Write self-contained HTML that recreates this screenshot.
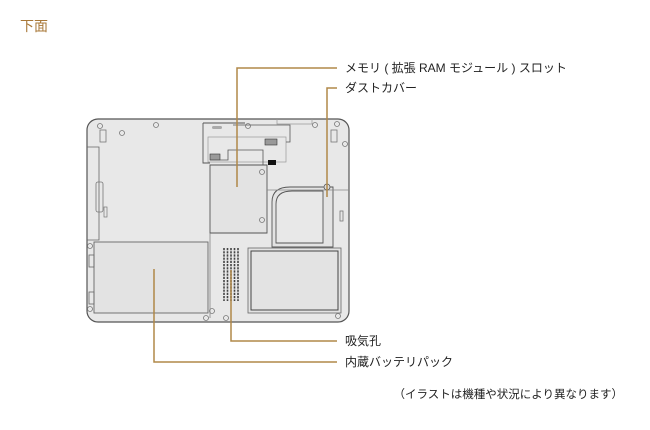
<!DOCTYPE html>
<html><head><meta charset="utf-8"><style>
html,body{margin:0;padding:0;background:#fff;}
svg{display:block;}
text{font-family:"Liberation Sans","Noto Sans CJK JP",sans-serif;}
</style></head><body>
<svg width="650" height="430" viewBox="0 0 650 430" xmlns="http://www.w3.org/2000/svg">
<text x="20" y="31" font-size="14" fill="#a87838">下面</text>
<!-- body -->
<rect x="87" y="119" width="262" height="203" rx="11" fill="#e8e8e8" stroke="#555" stroke-width="1.2"/>
<!-- left side panel -->
<path d="M87 147 H99 V240 H87" fill="none" stroke="#666" stroke-width="0.8"/>
<rect x="96" y="182" width="7" height="30" rx="2" fill="none" stroke="#777" stroke-width="0.8"/>
<rect x="104" y="207" width="3" height="10" fill="none" stroke="#777" stroke-width="0.7"/>
<!-- battery -->
<rect x="94" y="242" width="114" height="71" fill="#e3e3e3" stroke="#666" stroke-width="0.9"/>
<rect x="89" y="255" width="5" height="12" fill="none" stroke="#666" stroke-width="0.8"/>
<rect x="89" y="292" width="5" height="12" fill="none" stroke="#666" stroke-width="0.8"/>
<!-- memory bracket -->
<path d="M203 123 H245 M203 123 V163 H210" fill="none" stroke="#555" stroke-width="0.9"/>
<rect x="208" y="137" width="78" height="25" fill="none" stroke="#999" stroke-width="0.7"/>
<path d="M233 125 H290 V142 H286" fill="none" stroke="#555" stroke-width="0.8"/>
<path d="M277 119 V124 H312 V119" fill="none" stroke="#999" stroke-width="0.7"/>
<rect x="212" y="126" width="10" height="3" rx="1.5" fill="#aaa"/>
<rect x="265" y="139" width="12" height="6" fill="#999" stroke="#333" stroke-width="0.6"/>
<rect x="210" y="154" width="10" height="6" fill="#999" stroke="#333" stroke-width="0.6"/>
<rect x="268" y="160" width="8" height="5" fill="#111"/>
<!-- memory cover -->
<path d="M210 233 V165 H267 V233 Z" fill="#e3e3e3" stroke="#555" stroke-width="0.9"/>
<path d="M210 160 H228 V150 H263 V165" fill="none" stroke="#555" stroke-width="0.8"/>
<path d="M210 233 V318" fill="none" stroke="#777" stroke-width="0.7"/>
<!-- fan duct -->
<path d="M272 247 V202 Q272 187 290 187 H333 V247 Z" fill="#e3e3e3" stroke="#555" stroke-width="0.9"/>
<path d="M276 243 V204 Q276 191 292 191 H323 V243 Z" fill="#e8e8e8" stroke="#555" stroke-width="0.9"/>
<path d="M267 190 H349" fill="none" stroke="#888" stroke-width="0.7"/>
<circle cx="327" cy="187" r="3" fill="#ddd" stroke="#555" stroke-width="0.8"/>
<!-- right panel -->
<rect x="248" y="248" width="93" height="65" fill="#e3e3e3" stroke="#666" stroke-width="0.8"/>
<rect x="251" y="251" width="87" height="59" fill="#e3e3e3" stroke="#444" stroke-width="1"/>
<!-- vents -->
<g stroke="#444" stroke-width="1.6" stroke-dasharray="2.2 1">
<line x1="224" y1="248" x2="224" y2="301"/><line x1="227.5" y1="248" x2="227.5" y2="301"/>
<line x1="231" y1="248" x2="231" y2="301"/><line x1="234.5" y1="248" x2="234.5" y2="301"/>
<line x1="238" y1="248" x2="238" y2="301"/>
</g>
<!-- misc holes -->
<g fill="none" stroke="#777" stroke-width="0.8">
<circle cx="100" cy="126" r="2.5"/><circle cx="122" cy="133" r="2.5"/><circle cx="156" cy="125" r="2.5"/>
<circle cx="315" cy="125" r="2.5"/><circle cx="337" cy="124" r="2.5"/><circle cx="345" cy="144" r="2.5"/>
<circle cx="248" cy="126" r="2.5"/><circle cx="212" cy="311" r="2.5"/><circle cx="206" cy="318" r="2.5"/>
<circle cx="226" cy="318" r="2.5"/><circle cx="338" cy="316" r="2.5"/><circle cx="90" cy="246" r="2.5"/>
<circle cx="90" cy="309" r="2.5"/><circle cx="262" cy="172" r="2.5"/><circle cx="262" cy="220" r="2.5"/>
<rect x="100" y="130" width="6" height="12"/><rect x="331" y="130" width="6" height="12"/>
<rect x="340" y="211" width="3" height="10"/>
</g>
<!-- leader lines -->
<g stroke="#b08848" stroke-width="1.5" fill="none">
<path d="M237 187 V68 H337"/>
<path d="M327 197 V88 H337"/>
<path d="M231 270 V341 H337"/>
<path d="M154 269 V362 H337"/>
</g>
<g font-size="12" fill="#222">
<text x="345" y="72">メモリ ( 拡張 RAM モジュール ) スロット</text>
<text x="345" y="92">ダストカバー</text>
<text x="345" y="345">吸気孔</text>
<text x="345" y="366">内蔵バッテリパック</text>
</g>
<text x="623" y="398" font-size="11.5" fill="#222" text-anchor="end">（イラストは機種や状況により異なります）</text>
</svg>
</body></html>
